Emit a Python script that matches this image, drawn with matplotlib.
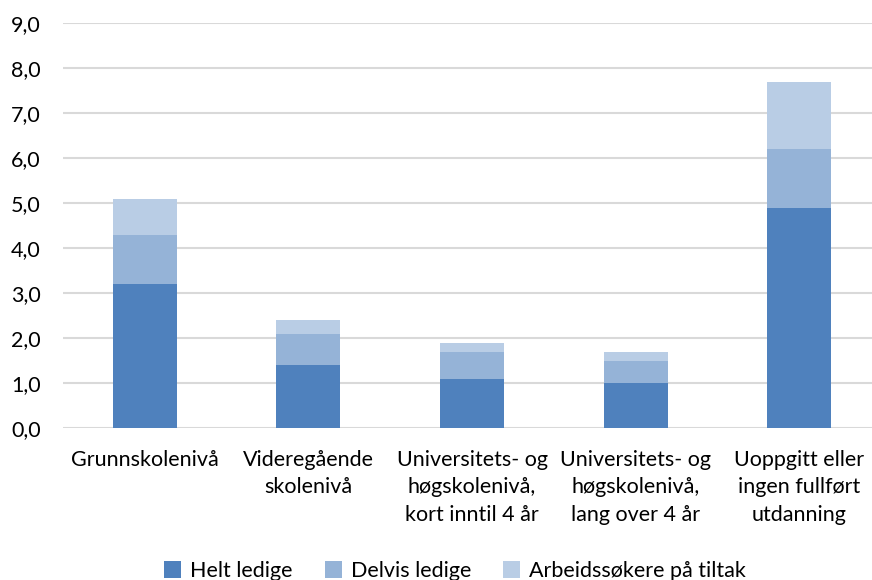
import numpy as np
import matplotlib
matplotlib.use("Agg")
import matplotlib.pyplot as plt

# data
categories = [
    "Grunnskolenivå",
    "Videregående\nskolenivå",
    "Universitets- og\nhøgskolenivå,\nkort inntil 4 år",
    "Universitets- og\nhøgskolenivå,\nlang over 4 år",
    "Uoppgitt eller\ningen fullført\nutdanning",
]
helt_ledige = [3.2, 1.4, 1.1, 1.0, 4.9]
delvis_ledige = [1.1, 0.7, 0.6, 0.5, 1.3]
tiltak = [0.8, 0.3, 0.2, 0.2, 1.5]
series_names = ["Helt ledige", "Delvis ledige", "Arbeidssøkere på tiltak"]
colors = ["#4F81BD", "#95B3D7", "#B9CDE5"]

plt.rcParams["font.family"] = ["Lato", "DejaVu Sans"]

fig = plt.figure(figsize=(8.72, 5.8), dpi=100)
W, H = 872, 580
left, right, bottom, top = 63, 881, 428, 23
ax = fig.add_axes([left / W, (H - bottom) / H, (right - left) / W, (bottom - top) / H])

x = np.arange(len(categories))
width = 0.39
b1 = ax.bar(x, helt_ledige, width, color=colors[0], label=series_names[0], zorder=3)
b2 = ax.bar(x, delvis_ledige, width, bottom=helt_ledige, color=colors[1],
            label=series_names[1], zorder=3)
base3 = np.array(helt_ledige) + np.array(delvis_ledige)
b3 = ax.bar(x, tiltak, width, bottom=base3, color=colors[2], label=series_names[2], zorder=3)

ax.set_xlim(-0.5, len(categories) - 0.5)
ax.set_ylim(0, 9)
ax.set_yticks(np.arange(0, 9.1, 1))
ax.set_yticklabels([f"{v:.1f}".replace(".", ",") for v in np.arange(0, 9.1, 1)])
ax.set_xticks(x)
ax.set_xticklabels(categories, linespacing=1.45)

ax.grid(axis="y", color="#d9d9d9", linewidth=1.5, zorder=0)
for s in ax.spines.values():
    s.set_visible(False)
ax.tick_params(axis="both", length=0, labelsize=15.5, colors="black")
ax.tick_params(axis="y", pad=16)
ax.tick_params(axis="x", pad=16)

fig.legend(handles=[b1, b2, b3], loc="center", bbox_to_anchor=(455 / W, (H - 571) / H),
           ncol=3, frameon=False, fontsize=15.5, handlelength=0.8, handleheight=0.8,
           handletextpad=0.4, columnspacing=1.5)

fig.savefig("out.png", dpi=100)
